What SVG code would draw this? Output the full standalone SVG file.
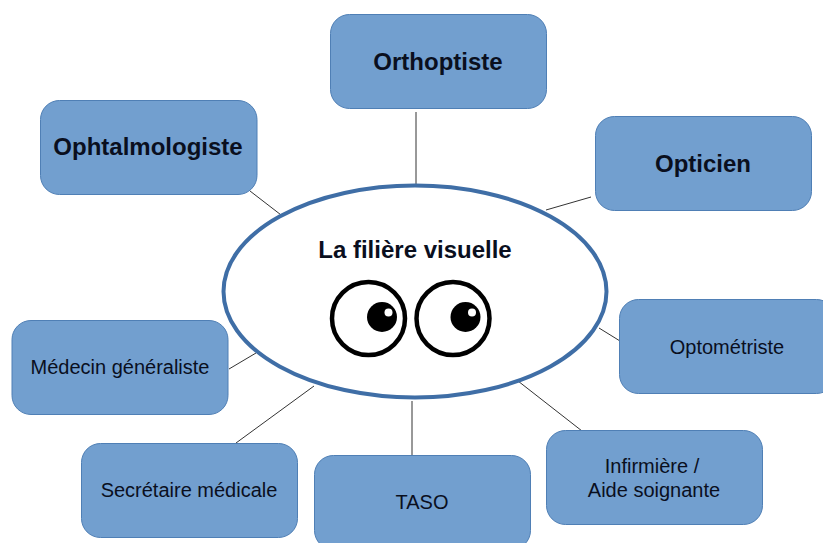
<svg xmlns="http://www.w3.org/2000/svg" width="823" height="543" viewBox="0 0 823 543">
<style>
.box{fill:#729fcf;stroke:#4f7fb5;stroke-width:1}
.t{font-family:"Liberation Sans",Arial,sans-serif;fill:#0a0f1e;text-anchor:middle}
.b{font-weight:bold;font-size:24px}
.r{font-size:20px}
.c{stroke:#333;stroke-width:1;fill:none}
</style>
<rect width="823" height="543" fill="#fff"/>
<g id="connectors">
<line class="c" x1="416" y1="112" x2="416" y2="186"/>
<line class="c" x1="250" y1="191" x2="285" y2="218"/>
<line class="c" x1="546" y1="210" x2="591" y2="197"/>
<line class="c" x1="599" y1="328" x2="620" y2="341"/>
<line class="c" x1="518" y1="381" x2="582" y2="431"/>
<line class="c" x1="412" y1="401" x2="412" y2="464"/>
<line class="c" x1="314" y1="386" x2="236" y2="443"/>
<line class="c" x1="229" y1="369" x2="256" y2="353"/>
</g>
<g id="ophtalmologiste"><rect class="box" x="40.500" y="100.500" width="216.500" height="94" rx="19"/><text class="t b" x="148" y="155">Ophtalmologiste</text></g>
<g id="orthoptiste"><rect class="box" x="330.500" y="14.500" width="216" height="94" rx="19"/><text class="t b" x="438" y="70">Orthoptiste</text></g>
<g id="opticien"><rect class="box" x="595.500" y="116.500" width="216" height="94" rx="19"/><text class="t b" x="703" y="172">Opticien</text></g>
<g id="optometriste"><rect class="box" x="619.500" y="299.500" width="216" height="94" rx="19"/><text class="t r" x="727" y="354">Optométriste</text></g>
<g id="infirmiere"><rect class="box" x="546.500" y="430.500" width="216" height="94" rx="19"/><text class="t r" x="652" y="473">Infirmière /</text><text class="t r" x="654" y="497">Aide soignante</text></g>
<g id="taso"><rect class="box" x="314.500" y="455.500" width="216" height="94" rx="19"/><text class="t r" x="422" y="509">TASO</text></g>
<g id="secretaire"><rect class="box" x="81.500" y="443.500" width="216" height="94" rx="19"/><text class="t r" x="189" y="497">Secrétaire médicale</text></g>
<g id="medecin"><rect class="box" x="12" y="320.500" width="216" height="94" rx="19"/><text class="t r" x="120" y="374">Médecin généraliste</text></g>
<g id="centre">
<ellipse cx="415" cy="291.500" rx="191.500" ry="106" fill="#fff" stroke="#3f6ea6" stroke-width="4"/>
<text class="t b" x="415" y="258" fill="#000">La filière visuelle</text>
<g id="eyes">
<circle cx="368.500" cy="318.500" r="36.500" fill="#fff" stroke="#000" stroke-width="4.500"/>
<circle cx="382" cy="317" r="15" fill="#000"/>
<circle cx="388.500" cy="312.500" r="4" fill="#fff"/>
<circle cx="453" cy="318.500" r="36.500" fill="#fff" stroke="#000" stroke-width="4.500"/>
<circle cx="465.500" cy="317" r="15" fill="#000"/>
<circle cx="472" cy="312.500" r="4" fill="#fff"/>
</g>
</g>
</svg>
